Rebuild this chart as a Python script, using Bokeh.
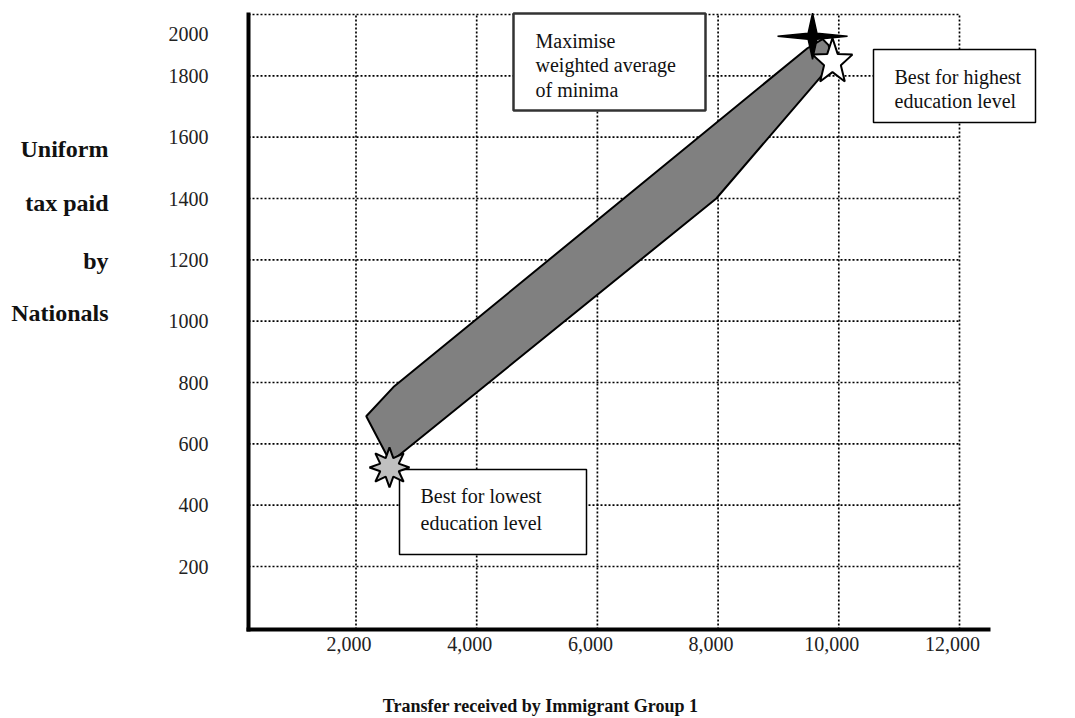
import math
from bokeh.plotting import figure
from bokeh.models import Range1d, FixedTicker
from bokeh.core.properties import value
from bokeh.embed import file_html
from bokeh.resources import INLINE

# ---------------- data ----------------
x_ticks = [2000, 4000, 6000, 8000, 10000, 12000]
x_tick_labels = ["2,000", "4,000", "6,000", "8,000", "10,000", "12,000"]
y_ticks = [200, 400, 600, 800, 1000, 1200, 1400, 1600, 1800, 2000]
y_tick_labels = ["200", "400", "600", "800", "1000", "1200", "1400", "1600", "1800", "2000"]

# feasible region (Transfer to Immigrant Group 1, uniform tax paid by Nationals)
region_x = [2170, 2620, 9480, 9730, 9830, 9910, 7970, 2570]
region_y = [690, 785, 1890, 1920, 1900, 1845, 1400, 540]

best_low_x, best_low_y = 2555, 523        # best for lowest education level
best_high_x, best_high_y = 9895, 1845     # best for highest education level
max_avg_x, max_avg_y = 9565, 1929         # maximise weighted average of minima

x_title = "Transfer received by Immigrant Group 1"
y_title_lines = ["Uniform", "tax paid", "by", "Nationals"]
note_max = ["Maximise", "weighted average", "of minima"]
note_high = ["Best for highest", "education level"]
note_low = ["Best for lowest", "education level"]

# ---------------- layout (canvas pixels -> data) ----------------
W, H = 1075, 718
PX_X = 603.5 / 10000.0      # px per x unit
X_ORIG = 355.5 - 2000 * PX_X
PX_Y = 552.0 / 1800.0       # px per y unit
Y_ORIG = 566.0 + 200 * PX_Y


def dx(px):
    return (px - X_ORIG) / PX_X


def dy(py):
    return (Y_ORIG - py) / PX_Y


FONT = "Liberation Serif"
AX_LEFT, AX_RIGHT, AX_TOP, AX_BOTTOM = 248, 990, 12, 629

p = figure(width=W, height=H, x_range=Range1d(dx(0), dx(W)), y_range=Range1d(dy(H), dy(0)),
           output_backend="svg", toolbar_location=None,
           min_border_left=0, min_border_right=0, min_border_top=0, min_border_bottom=0)
p.outline_line_color = None
p.xgrid.visible = False
p.ygrid.visible = False
p.background_fill_color = "white"
p.border_fill_color = "white"

# axes placed at the chart's own origin lines
p.xaxis.fixed_location = dy(AX_BOTTOM)
p.yaxis.fixed_location = dx(AX_LEFT)
p.xaxis.bounds = (dx(AX_LEFT - 2), dx(AX_RIGHT))
p.yaxis.bounds = (dy(AX_BOTTOM + 2), dy(AX_TOP))
# labels sit slightly left of their grid lines in the original
x_label_pos = [t - 7 / PX_X for t in x_ticks]
p.xaxis.ticker = FixedTicker(ticks=x_label_pos)
p.xaxis.major_label_overrides = {t: s for t, s in zip(x_label_pos, x_tick_labels)}
y_label_pos = list(y_ticks)
y_label_pos[-1] = dy(33)   # top label sits below the top grid line in the original
p.yaxis.ticker = FixedTicker(ticks=y_label_pos)
p.yaxis.major_label_overrides = {t: s for t, s in zip(y_label_pos, y_tick_labels)}
for ax, standoff in ((p.xaxis, 7), (p.yaxis, 40)):
    ax.axis_line_width = 4
    ax.axis_line_color = "black"
    ax.major_tick_line_color = None
    ax.minor_tick_line_color = None
    ax.major_tick_in = 0
    ax.major_tick_out = 0
    ax.major_label_standoff = standoff
    ax.major_label_text_font = FONT
    ax.major_label_text_font_size = "20px"
    ax.major_label_text_color = "#222222"

# dotted grid, bounded by the 12,000 and 2000 lines
p.segment(x0=[dx(AX_LEFT)] * len(y_ticks), x1=[x_ticks[-1]] * len(y_ticks), y0=y_ticks, y1=y_ticks,
          line_color="black", line_width=1.7, line_dash="2 2")
p.segment(x0=x_ticks, x1=x_ticks, y0=[dy(AX_BOTTOM)] * len(x_ticks), y1=[y_ticks[-1]] * len(x_ticks),
          line_color="black", line_width=1.7, line_dash="2 2")

# feasible region
p.patch(region_x, region_y, fill_color="#808080", line_color="black", line_width=2)

# note boxes
boxes = [  # left, right, top, bottom (canvas px)
    (513, 705, 13, 110),
    (873, 1035, 49, 122),
    (399, 586, 469, 554),
]
p.quad(left=[dx(b[0]) for b in boxes], right=[dx(b[1]) for b in boxes],
       top=[dy(b[2]) for b in boxes], bottom=[dy(b[3]) for b in boxes],
       fill_color="white", line_color=["#333333", "black", "black"],
       line_width=[2.5, 1.5, 1.5])

tx, ty, tt = [], [], []
for lines, left, ys in ((note_max, 535, (40, 64, 89)),
                        (note_high, 894, (76, 100)),
                        (note_low, 420, (495, 522))):
    for line, yy in zip(lines, ys):
        tx.append(dx(left)); ty.append(dy(yy)); tt.append(line)
p.text(x=tx, y=ty, text=tt, text_font=value(FONT), text_font_size="20px",
       text_baseline="middle", text_align="left", text_color="#111111")


# stars
def star(cx, cy, n, r_in, sx, sy):
    xs, ys = [], []
    for k in range(2 * n):
        a = math.pi / 2 + k * math.pi / n
        r = 1.0 if k % 2 == 0 else r_in
        xs.append(cx + r * math.cos(a) * sx / PX_X)
        ys.append(cy + r * math.sin(a) * sy / PX_Y)
    return xs, ys


wx, wy = star(best_high_x, best_high_y, 5, 0.42, 21, 24)
p.patch(wx, wy, fill_color="white", line_color="black", line_width=2)
bx, by = star(max_avg_x, max_avg_y, 4, 0.18, 35, 23)
p.patch(bx, by, fill_color="black", line_color="black", line_width=1.5)
gx, gy = star(best_low_x, best_low_y, 8, 0.5, 20, 20)
p.patch(gx, gy, fill_color="#c0c0c0", line_color="black", line_width=2)

# axis titles
p.text(x=[dx(108)] * len(y_title_lines), y=[dy(v) for v in (148, 202, 260, 312)],
       text=y_title_lines, text_align="right", text_baseline="middle",
       text_font=value(FONT), text_font_size="24px", text_font_style="bold",
       text_color="#111111")
p.text(x=[dx(540)], y=[dy(705)], text=[x_title], text_align="center",
       text_baseline="middle", text_font=value(FONT), text_font_size="18px",
       text_font_style="bold", text_color="#111111")

open("out.html", "w").write(file_html(p, INLINE))
